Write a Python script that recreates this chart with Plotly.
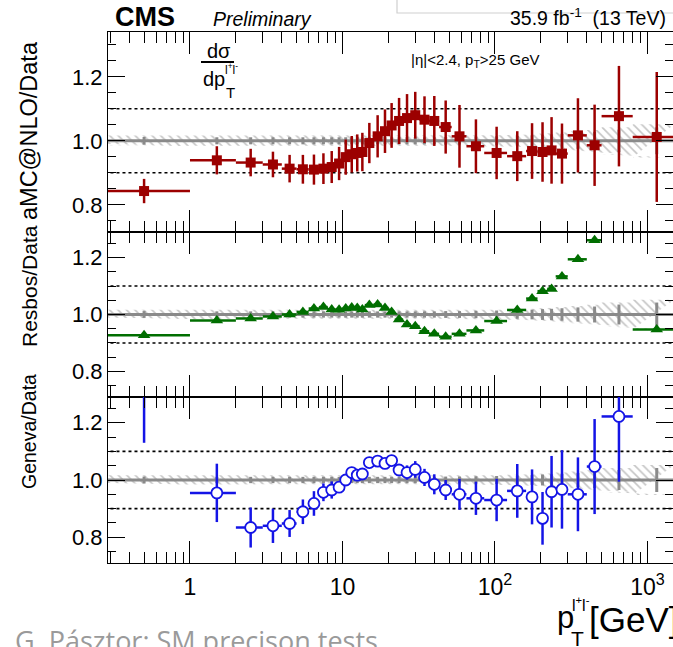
import numpy as np
import plotly.graph_objects as go

# ---------------- data ----------------
bin_edges = [0, 1, 2, 3, 4, 5, 6, 7, 8, 9, 10, 11, 12, 13, 14, 16, 18, 20, 22, 25, 28,
             32, 37, 43, 52, 65, 85, 120, 160, 190, 220, 250, 300, 400, 500, 800, 1500]

amc_ratio = [0.843, 0.939, 0.932, 0.926, 0.913, 0.911, 0.910, 0.913, 0.918, 0.929,
             0.949, 0.958, 0.962, 0.965, 0.993, 1.014, 1.030, 1.048, 1.062, 1.071,
             1.080, 1.066, 1.062, 1.043, 1.014, 0.983, 0.962, 0.952, 0.968, 0.965,
             0.970, 0.960, 1.017, 0.986, 1.077, 1.012]
amc_err = [0.038, 0.044, 0.043, 0.040, 0.043, 0.045, 0.047, 0.048, 0.050, 0.052,
           0.055, 0.057, 0.058, 0.060, 0.063, 0.066, 0.068, 0.070, 0.072, 0.075,
           0.073, 0.073, 0.078, 0.083, 0.098, 0.084, 0.082, 0.078, 0.087, 0.093,
           0.104, 0.094, 0.116, 0.127, 0.157, 0.203]

resbos_ratio = [0.927, 0.979, 0.986, 0.993, 1.000, 1.009, 1.021, 1.026, 1.018, 1.017,
                1.021, 1.025, 1.023, 1.018, 1.033, 1.035, 1.023, 1.009, 0.982, 0.965,
                0.959, 0.941, 0.932, 0.922, 0.932, 0.944, 0.977, 1.016, 1.056, 1.082,
                1.090, 1.134, 1.194, 1.261, 1.380, 0.947]

geneva_ratio = [1.450, 0.955, 0.834, 0.840, 0.848, 0.889, 0.918, 0.957, 0.965, 0.975,
                1.000, 1.026, 1.017, 1.021, 1.061, 1.066, 1.058, 1.068, 1.035, 1.026,
                1.037, 1.009, 0.985, 0.965, 0.950, 0.936, 0.930, 0.962, 0.941, 0.866,
                0.959, 0.967, 0.950, 1.047, 1.222, None]
geneva_err = [0.320, 0.102, 0.070, 0.060, 0.047, 0.043, 0.043, 0.031, 0.030, 0.020,
              0.016, 0.015, 0.015, 0.015, 0.015, 0.015, 0.015, 0.015, 0.020, 0.025,
              0.029, 0.030, 0.035, 0.035, 0.054, 0.058, 0.074, 0.094, 0.096, 0.092,
              0.125, 0.137, 0.129, 0.166, 0.228, None]

data_stat_unc = [0.012, 0.011, 0.011, 0.011, 0.011, 0.011, 0.011, 0.011, 0.011, 0.011,
                 0.011, 0.011, 0.011, 0.011, 0.011, 0.011, 0.011, 0.011, 0.011, 0.011,
                 0.011, 0.011, 0.011, 0.012, 0.012, 0.013, 0.014, 0.015, 0.017, 0.019,
                 0.020, 0.022, 0.025, 0.028, 0.035, 0.042]
data_tot_unc = [0.016, 0.015, 0.015, 0.015, 0.015, 0.015, 0.015, 0.015, 0.015, 0.015,
                0.015, 0.015, 0.015, 0.015, 0.015, 0.015, 0.015, 0.015, 0.015, 0.015,
                0.015, 0.015, 0.015, 0.015, 0.016, 0.016, 0.017, 0.018, 0.020, 0.022,
                0.024, 0.026, 0.030, 0.034, 0.042, 0.052]

x_tick_vals = [1, 10, 100, 1000]
x_tick_text = ["1", "10", "10<sup>2</sup>", "10<sup>3</sup>"]
y_tick_vals = [0.8, 1.0, 1.2]
panel_titles = ["aMC@NLO/Data", "Resbos/Data", "Geneva/Data"]

# ---------------- derived ----------------
lo = np.array(bin_edges[:-1], dtype=float)
hi = np.array(bin_edges[1:], dtype=float)
centers = (lo + hi) / 2.0
lo_plot = np.maximum(lo, 1e-3)
ex_plus = hi - centers
ex_minus = centers - lo_plot

W, H = 673, 647
ML, MR, MT, MB = 108, 0, 32, 84
PW, PH = W - ML - MR, H - MT - MB


def px(x):
    return (x - ML) / PW


def py(y):
    return (H - MB - y) / PH


FONT = "Liberation Sans"
RED = "#9c0000"
GREEN = "#006e00"
BLUE = "#1414e6"
GRAY = "#8a8a8a"

fig = go.Figure()

axes = [("x", "y"), ("x2", "y2"), ("x3", "y3")]

band_x = np.concatenate([np.ravel(np.column_stack([lo_plot, hi])),
                         np.ravel(np.column_stack([hi, lo_plot]))[::-1]])
up = 1 + np.array(data_tot_unc)
dn = 1 - np.array(data_tot_unc)
band_y = np.concatenate([np.repeat(up, 2), np.repeat(dn, 2)[::-1]])

line_x = [lo_plot[0], hi[-1]]

for xa, ya in axes:
    fig.add_trace(go.Scatter(
        x=band_x, y=band_y, xaxis=xa, yaxis=ya, mode="lines", fill="toself",
        line=dict(width=0), fillcolor="rgba(0,0,0,0)",
        fillpattern=dict(shape="\\", fgcolor="#8c8c8c", bgcolor="rgba(0,0,0,0)",
                         size=6, solidity=0.28),
        showlegend=False, hoverinfo="skip"))
    for lvl in (0.9, 1.1):
        fig.add_trace(go.Scatter(
            x=line_x, y=[lvl, lvl], xaxis=xa, yaxis=ya, mode="lines",
            line=dict(color="black", width=1.6, dash="dot"),
            showlegend=False, hoverinfo="skip"))
    fig.add_trace(go.Scatter(
        x=line_x, y=[1, 1], xaxis=xa, yaxis=ya, mode="lines",
        line=dict(color=GRAY, width=3), showlegend=False, hoverinfo="skip"))
    fig.add_trace(go.Scatter(
        x=centers, y=np.ones_like(centers), xaxis=xa, yaxis=ya, mode="markers",
        marker=dict(size=1, color=GRAY, opacity=0),
        error_y=dict(type="data", array=data_stat_unc, color=GRAY, thickness=3, width=0),
        showlegend=False, hoverinfo="skip"))

# aMC@NLO
fig.add_trace(go.Scatter(
    x=centers, y=amc_ratio, xaxis="x", yaxis="y", mode="markers",
    marker=dict(symbol="square", size=10, color=RED),
    error_x=dict(type="data", array=ex_plus, arrayminus=ex_minus, color=RED, thickness=2.5, width=0),
    error_y=dict(type="data", array=amc_err, color=RED, thickness=2.5, width=0),
    showlegend=False))

# Resbos
fig.add_trace(go.Scatter(
    x=centers, y=resbos_ratio, xaxis="x2", yaxis="y2", mode="markers",
    marker=dict(symbol="triangle-up", size=11, color=GREEN),
    error_x=dict(type="data", array=ex_plus, arrayminus=ex_minus, color=GREEN, thickness=2.5, width=0),
    showlegend=False))

# Geneva
fig.add_trace(go.Scatter(
    x=centers, y=geneva_ratio, xaxis="x3", yaxis="y3", mode="markers",
    marker=dict(symbol="circle", size=11, color="white", line=dict(color=BLUE, width=1.8)),
    error_x=dict(type="data", array=ex_plus, arrayminus=ex_minus, color=BLUE, thickness=2.5, width=0),
    error_y=dict(type="data", array=geneva_err, color=BLUE, thickness=2.5, width=0),
    showlegend=False))

minor_x = [m * 10.0 ** e for e in range(-1, 3) for m in range(2, 10) if m * 10.0 ** e >= 0.29]

xrange = [np.log10(0.29), np.log10(1470)]
base_x = dict(type="log", range=xrange, showgrid=False, zeroline=False, automargin=False,
              showline=True, linecolor="black", linewidth=1, mirror="allticks",
              ticks="inside", ticklen=22, tickwidth=1.3, tickcolor="black",
              tickmode="array", tickvals=x_tick_vals, ticktext=x_tick_text,
              minor=dict(tickmode="array", tickvals=minor_x, ticks="inside",
                         ticklen=11, tickwidth=1.3, tickcolor="black"),
              tickfont=dict(family=FONT, size=23, color="black"))
base_y = dict(showgrid=False, zeroline=False, showline=True, linecolor="black", automargin=False,
              linewidth=1, mirror="allticks", ticks="inside", ticklen=17,
              tickwidth=1.3, tickcolor="black", tickmode="array", tickvals=y_tick_vals,
              tickformat=".1f",
              minor=dict(dtick=0.05, tick0=0, ticks="inside", ticklen=8,
                         tickwidth=1.3, tickcolor="black"),
              tickfont=dict(family=FONT, size=22, color="black"))

d1 = (H - MB - 232) / PH
d2 = (H - MB - 397) / PH

fig.update_layout(
    width=W, height=H, margin=dict(l=ML, r=MR, t=MT, b=MB, autoexpand=False),
    plot_bgcolor="white", paper_bgcolor="white",
    xaxis=dict(base_x, anchor="y", showticklabels=False),
    xaxis2=dict(base_x, anchor="y2", matches="x", showticklabels=False),
    xaxis3=dict(base_x, anchor="y3", matches="x", showticklabels=True, ticklabelstandoff=3),
    yaxis=dict(base_y, domain=[d1, 1], range=[0.715, 1.34], anchor="x"),
    yaxis2=dict(base_y, domain=[d2, d1], range=[0.71, 1.29], anchor="x2"),
    yaxis3=dict(base_y, domain=[0, d2], range=[0.71, 1.29], anchor="x3"),
)

ann = []
for title, yc, fs in zip(panel_titles, [131, 286, 432], [23.5, 21, 19.5]):
    ann.append(dict(text=title, x=px(29), y=py(yc), textangle=-90,
                    xanchor="center", yanchor="middle",
                    font=dict(family=FONT, size=fs, color="black")))

ann += [
    dict(text="<b>CMS</b>", x=px(113), y=py(17), xanchor="left", yanchor="middle",
         font=dict(family=FONT, size=27, color="black")),
    dict(text="<i>Preliminary</i>", x=px(211), y=py(19), xanchor="left", yanchor="middle",
         font=dict(family=FONT, size=19.5, color="black")),
    dict(text="35.9 fb<sup>-1</sup>  (13 TeV)", x=px(668), y=py(17), xanchor="right",
         yanchor="middle", font=dict(family=FONT, size=19.5, color="black")),
    dict(text="|η|&lt;2.4, p<sub>T</sub>&gt;25 GeV", x=px(409), y=py(60), xanchor="left",
         yanchor="middle", font=dict(family=FONT, size=15, color="black")),
    dict(text="dσ", x=px(219), y=py(51), xanchor="center", yanchor="middle",
         font=dict(family=FONT, size=20, color="black")),
    dict(text="dp", x=px(201), y=py(79), xanchor="left", yanchor="middle",
         font=dict(family=FONT, size=20, color="black")),
    dict(text="l<sup>+</sup>l<sup>-</sup>", x=px(223), y=py(69), xanchor="left", yanchor="middle",
         font=dict(family=FONT, size=12, color="black")),
    dict(text="T", x=px(224), y=py(93), xanchor="left", yanchor="middle",
         font=dict(family=FONT, size=15, color="black")),
    dict(text="p", x=px(555), y=py(617), xanchor="left", yanchor="middle",
         font=dict(family=FONT, size=31, color="black")),
    dict(text="l<sup>+</sup>l<sup>-</sup>", x=px(570), y=py(604), xanchor="left", yanchor="middle",
         font=dict(family=FONT, size=16, color="black")),
    dict(text="T", x=px(569), y=py(638), xanchor="left", yanchor="middle",
         font=dict(family=FONT, size=21, color="black")),
    dict(text="[GeV]", x=px(587), y=py(619), xanchor="left", yanchor="middle",
         font=dict(family=FONT, size=35, color="black")),
    dict(text="G. Pásztor: SM precison tests", x=px(13), y=py(620), xanchor="left",
         yanchor="top", font=dict(family="Open Sans", size=27, color="#9a9a9a")),
]
for a in ann:
    a.setdefault("xref", "paper")
    a.setdefault("yref", "paper")
    a.setdefault("showarrow", False)
fig.update_layout(annotations=ann)

fig.update_layout(shapes=[
    dict(type="line", xref="paper", yref="paper", x0=px(201), x1=px(234),
         y0=py(62), y1=py(62), line=dict(color="black", width=1.8)),
    dict(type="path", xref="paper", yref="paper",
         path=f"M {px(397)} {py(-2)} L {px(397)} {py(13)} L {px(680)} {py(13)}",
         line=dict(color="#cfcfcf", width=1.2)),
])

fig.write_html("out.html", config={"displayModeBar": False},
               post_script="document.body.style.margin='0';document.body.style.overflow='hidden';")
